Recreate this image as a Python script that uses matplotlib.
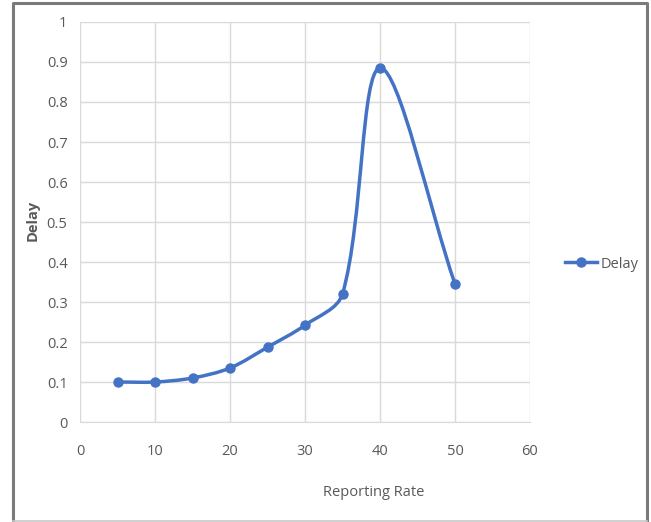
import matplotlib.pyplot as plt
import matplotlib.patches as mpatches
from matplotlib.path import Path
from matplotlib.lines import Line2D
import numpy as np

# --- DATA ---
reporting_rate = [5, 10, 15, 20, 25, 30, 35, 40, 50]
delay = [0.10, 0.10, 0.11, 0.135, 0.187, 0.242, 0.32, 0.885, 0.345]

X_TICKS = [0, 10, 20, 30, 40, 50, 60]
Y_TICKS = [0, 0.1, 0.2, 0.3, 0.4, 0.5, 0.6, 0.7, 0.8, 0.9, 1]
Y_TICK_LABELS = ['0', '0.1', '0.2', '0.3', '0.4', '0.5', '0.6', '0.7', '0.8', '0.9', '1']

LINE_COLOR = '#4472C4'
TEXT_COLOR = '#595959'
GRID_COLOR = '#d9d9d9'

plt.rcParams['font.family'] = ['Open Sans', 'DejaVu Sans']


def smooth_path(ax, xs, ys):
    """Bezier path through the points; handles scaled by chord length
    (measured in pixels) so a short segment next to a long one stays tidy."""
    pts = ax.transData.transform(np.column_stack([xs, ys]).astype(float))
    n = len(pts)
    verts = [pts[0]]
    codes = [Path.MOVETO]
    for i in range(n - 1):
        p0 = pts[i - 1] if i > 0 else pts[i]
        p1 = pts[i]
        p2 = pts[i + 1]
        p3 = pts[i + 2] if i + 2 < n else pts[i + 1]
        d01 = np.hypot(*(p1 - p0))
        d12 = np.hypot(*(p2 - p1))
        d23 = np.hypot(*(p3 - p2))
        c1 = p1 + (p2 - p0) * (d12 / (d01 + d12)) / 3 if d01 > 0 else p1 + (p2 - p1) / 3
        c2 = p2 - (p3 - p1) * (d12 / (d12 + d23)) / 3 if d23 > 0 else p2 - (p2 - p1) / 3
        verts.extend([c1, c2, p2])
        codes.extend([Path.CURVE4] * 3)
    verts = ax.transData.inverted().transform(np.array(verts))
    return Path(verts, codes)


fig = plt.figure(figsize=(6.51, 5.22), dpi=100)
W, H = 651, 522
ax = fig.add_axes([80 / W, (H - 422) / H, 450 / W, 400 / H])

ax.set_xlim(0, 60)
ax.set_ylim(0, 1)
ax.set_xticks(X_TICKS)
ax.set_yticks(Y_TICKS)
ax.set_yticklabels(Y_TICK_LABELS)
ax.grid(True, color=GRID_COLOR, lw=1)
ax.set_axisbelow(True)
for side in ['top', 'right', 'left']:
    ax.spines[side].set_visible(False)
ax.spines['bottom'].set_color(GRID_COLOR)
ax.tick_params(length=0, colors=TEXT_COLOR, labelsize=10.5)
ax.tick_params(axis='x', pad=16)
ax.tick_params(axis='y', pad=9)

# smoothed curve plus markers
curve = mpatches.PathPatch(smooth_path(ax, reporting_rate, delay), fill=False,
                           edgecolor=LINE_COLOR, lw=2.5, zorder=3)
ax.add_patch(curve)
ax.plot(reporting_rate, delay, 'o', color=LINE_COLOR, ms=6.5, zorder=4)

ax.set_xlabel('Reporting Rate', color=TEXT_COLOR, fontsize=10.5)
ax.xaxis.set_label_coords(0.653, -0.158)
ax.set_ylabel('Delay', color=TEXT_COLOR, fontsize=10.5, fontweight='bold')
ax.yaxis.set_label_coords(-0.089, 0.505)

handle = Line2D([], [], color=LINE_COLOR, lw=2.5, marker='o', ms=6.5)
fig.legend([handle], ['Delay'], loc='center left', bbox_to_anchor=(552 / W, (H - 264) / H),
           frameon=False, handlelength=2.2, handletextpad=0.2,
           prop={'size': 10.5}, labelcolor=TEXT_COLOR)

# outer frame: dark on top and sides, light along the bottom
def fx(px):
    return px / W


def fy(py):
    return 1 - py / H


frame_dark = Line2D([fx(13), fx(13), fx(647), fx(647)], [fy(520), fy(3), fy(3), fy(520)],
                    transform=fig.transFigure, color='#7a7a7a', lw=2.2)
frame_light = Line2D([fx(13), fx(647)], [fy(520.5), fy(520.5)],
                     transform=fig.transFigure, color='#c8c8c8', lw=1.2)
fig.lines.extend([frame_dark, frame_light])

fig.savefig('out.png', dpi=100)
